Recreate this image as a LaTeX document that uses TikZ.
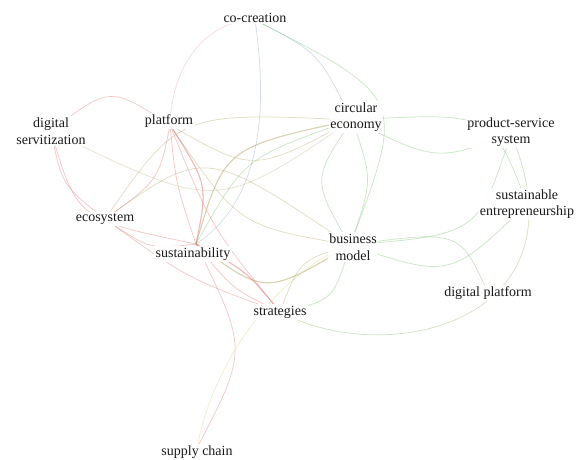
\documentclass[tikz,border=0pt]{standalone}
\usepackage{fontspec}
\setmainfont{Liberation Serif}
\newfontfamily\lblfont{Liberation Serif}
\definecolor{cred}{RGB}{228,105,105}
\definecolor{cgreen}{RGB}{110,190,100}
\definecolor{colive}{RGB}{175,160,95}
\definecolor{cblue}{RGB}{140,165,205}
\definecolor{cyel}{RGB}{215,210,120}
\definecolor{cpink}{RGB}{235,160,160}
\begin{document}
\begin{tikzpicture}[x=1pt,y=-1pt,
  lbl/.style={fill=white,fill opacity=0.92,text opacity=1,inner sep=1.5pt,align=center,
    font=\lblfont\fontsize{14}{16.5}\selectfont,text=black!90},
  ed/.style={line width=0.7pt,draw opacity=0.38},
  edk/.style={line width=1.1pt,draw opacity=0.48}]
\fill[white] (0,0) rectangle (581,459);
\useasboundingbox (0,0) rectangle (581,459);
% node centres
\coordinate (cc) at (255,20);
\coordinate (ds) at (51,131);
\coordinate (pf) at (170,125);
\coordinate (ce) at (352,120);
\coordinate (pss) at (511,134);
\coordinate (se) at (527,204);
\coordinate (eco) at (105,219);
\coordinate (bm) at (350,245);
\coordinate (su) at (196,244);
\coordinate (st) at (280,312);
\coordinate (dp) at (488,293);
\coordinate (sc) at (197,448);
% edges
\draw[ed,cpink] (cc) .. controls (210,20) and (172,60) .. (pf);
\draw[ed,cblue] (cc) .. controls (268,110) and (262,200) .. (su);
\draw[ed,cblue] (cc) .. controls (318.5,52.5) .. (ce);
\draw[ed,cgreen] (cc) .. controls (406,97.5) .. (bm);
\draw[ed,cred] (ds) .. controls (110,86) .. (pf);
\draw[ed,cred] (ds) .. controls (62,185) .. (eco);
\draw[ed,cred] (ds) .. controls (77,219.5) .. (su);
\draw[ed,colive!80] (ds) .. controls (217,212) .. (ce);
\draw[ed,colive] (pf) .. controls (253.5,173) .. (ce);
\draw[ed,cred] (pf) .. controls (159,180) .. (eco);
\draw[edk,cred] (pf) .. controls (208,184.5) .. (su);
\draw[ed,cred] (pf) .. controls (176,184.5) .. (su);
\draw[ed,cred] (pf) .. controls (211.5,227.5) .. (st);
\draw[ed,colive] (pf) .. controls (239,226) .. (bm);
\draw[ed,colive] (eco) .. controls (179.5,112) .. (ce);
\draw[ed,colive] (eco) .. controls (205,147) .. (bm);
\draw[ed,cred] (eco) .. controls (150,249.5) .. (su);
\draw[ed,cred] (eco) .. controls (187.5,278.5) .. (st);
\draw[edk,colive] (su) .. controls (224.5,147.5) .. (ce);
\draw[ed,cgreen] (su) .. controls (244.5,157.5) .. (ce);
\draw[edk,colive] (su) .. controls (266,295.5) .. (bm);
\draw[edk,cred] (su) .. controls (246.5,271) .. (st);
\draw[ed,cred] (su) .. controls (232.5,289) .. (st);
\draw[ed,cred] (su) .. controls (248,350) .. (sc);
\draw[ed,cyel] (bm) .. controls (290,265) and (215,350) .. (sc);
\draw[ed,cgreen] (st) .. controls (333.5,300.5) .. (bm);
\draw[ed,colive] (st) .. controls (299.5,260.5) .. (bm);
\draw[ed,colive!40!cgreen] (st) .. controls (390,370) and (590,320) .. (pss);
\draw[ed,cgreen] (ce) .. controls (312,180) .. (bm);
\draw[ed,cgreen] (ce) .. controls (373,180) .. (bm);
\draw[ed,cgreen] (ce) .. controls (436.5,161.5) .. (pss);
\draw[ed,cgreen] (ce) .. controls (492,112) .. (se);
\draw[ed,cgreen] (bm) .. controls (478,234.5) .. (pss);
\draw[ed,cgreen] (bm) .. controls (450,278.5) .. (se);
\draw[ed,cgreen] (bm) .. controls (459.5,230) .. (dp);
% labels
\node[lbl] (cc-l) at (255,18) {co-creation};
\node[lbl] (ds-l) at (ds) {digital\\servitization};
\node[lbl] (pf-l) at (169,121) {platform};
\node[lbl] (ce-l) at (356,117) {circular\\economy};
\node[lbl] (pss-l) at (511,132) {product-service\\system};
\node[lbl] (se-l) at (se) {sustainable\\entrepreneurship};
\node[lbl] (eco-l) at (eco) {ecosystem};
\node[lbl] (bm-l) at (353,247) {business\\model};
\node[lbl] (su-l) at (193,254) {sustainability};
\node[lbl] (st-l) at (st) {strategies};
\node[lbl] (dp-l) at (dp) {digital platform};
\node[lbl] (sc-l) at (197,452) {supply chain};
\end{tikzpicture}
\end{document}
